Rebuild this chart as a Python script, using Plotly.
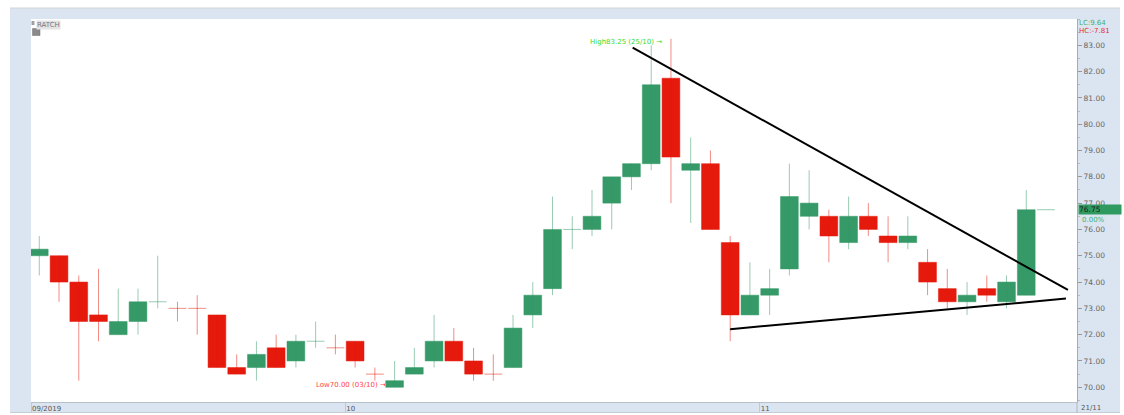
import plotly.graph_objects as go

# ---------------- data ----------------
symbol = "RATCH"
dates = [
    "2019-09-09", "2019-09-10", "2019-09-11", "2019-09-12", "2019-09-13", "2019-09-16",
    "2019-09-17", "2019-09-18", "2019-09-19", "2019-09-20", "2019-09-23", "2019-09-24",
    "2019-09-25", "2019-09-26", "2019-09-27", "2019-09-30",
    "2019-10-01", "2019-10-02", "2019-10-03", "2019-10-04", "2019-10-07", "2019-10-08",
    "2019-10-09", "2019-10-10", "2019-10-11", "2019-10-15", "2019-10-16", "2019-10-17",
    "2019-10-18", "2019-10-21", "2019-10-22", "2019-10-24", "2019-10-25", "2019-10-28",
    "2019-10-29", "2019-10-30", "2019-10-31",
    "2019-11-01", "2019-11-04", "2019-11-05", "2019-11-06", "2019-11-07", "2019-11-08",
    "2019-11-11", "2019-11-12", "2019-11-13", "2019-11-14", "2019-11-15", "2019-11-18",
    "2019-11-19", "2019-11-20", "2019-11-21",
]
opens = [75.0, 75.0, 74.0, 72.75, 72.0, 72.5, 73.25, 73.0, 73.0, 72.75, 70.75, 70.75,
         71.5, 71.0, 71.75, 71.5,
         71.75, 70.5, 70.0, 70.5, 71.0, 71.75, 71.0, 70.5, 70.75, 72.75, 73.75, 76.0,
         76.0, 77.0, 78.0, 78.5, 81.75, 78.25, 78.5, 75.5, 72.75,
         73.5, 74.5, 76.5, 76.5, 75.5, 76.5, 75.75, 75.5, 74.75, 73.75, 73.25, 73.75,
         73.25, 73.5, 76.75]
highs = [75.75, 75.0, 74.25, 74.5, 73.75, 73.75, 75.0, 73.25, 73.5, 72.75, 71.25, 71.75,
         72.0, 72.0, 72.5, 72.0,
         71.75, 70.75, 71.0, 71.5, 72.75, 72.25, 71.5, 71.25, 72.75, 74.0, 77.25, 76.5,
         77.5, 78.0, 78.5, 83.0, 83.25, 79.5, 79.0, 75.75, 74.75,
         74.5, 78.5, 78.25, 76.75, 77.25, 77.0, 76.5, 76.5, 75.25, 74.5, 74.0, 74.25,
         74.25, 77.5, 76.75]
lows = [74.25, 73.25, 70.25, 71.75, 72.0, 72.0, 73.0, 72.5, 72.0, 70.75, 70.5, 70.25,
        70.75, 70.75, 71.5, 71.25,
        70.75, 70.25, 70.0, 70.5, 70.75, 71.0, 70.25, 70.25, 70.75, 72.25, 73.5, 75.25,
        75.75, 76.0, 77.5, 78.25, 77.0, 76.25, 76.0, 71.75, 72.75,
        72.75, 74.25, 76.0, 74.75, 75.25, 75.75, 74.75, 75.25, 73.5, 73.0, 72.75, 73.25,
        73.0, 73.5, 76.75]
closes = [75.25, 74.0, 72.5, 72.5, 72.5, 73.25, 73.25, 73.0, 73.0, 70.75, 70.5, 71.25,
          70.75, 71.75, 71.75, 71.5,
          71.0, 70.5, 70.25, 70.75, 71.75, 71.0, 70.5, 70.5, 72.25, 73.5, 76.0, 76.0,
          76.5, 78.0, 78.5, 81.5, 78.75, 78.5, 76.0, 72.75, 73.5,
          73.75, 77.25, 77.0, 75.75, 76.5, 76.0, 75.5, 75.75, 74.0, 73.25, 73.5, 73.5,
          74.0, 76.75, 76.75]

# hand-drawn trend lines (x = bar index, y = price)
upper_trend_x = [30.06, 52.11]
upper_trend_y = [82.91, 73.70]
lower_trend_x = [35.0, 52.01]
lower_trend_y = [72.21, 73.37]

# ---------------- styling ----------------
GREEN = "#359A68"
RED = "#E61A0C"
GREEN_W = "rgba(53,154,104,0.5)"
RED_W = "rgba(230,26,12,0.5)"
FRAME = "#DBE5F1"
FONT = "DejaVu Sans"
W, H = 1124, 415
BODY_W = 0.9

n = len(dates)
xs = list(range(n))

# direction: dojis take the direction vs previous close, else keep previous direction
direction = []
for i in range(n):
    if closes[i] > opens[i]:
        d = 1
    elif closes[i] < opens[i]:
        d = -1
    elif i > 0 and closes[i] > closes[i - 1]:
        d = 1
    elif i > 0 and closes[i] < closes[i - 1]:
        d = -1
    else:
        d = direction[-1] if direction else 1
    direction.append(d)

fig = go.Figure()
for sign, fill, line in [(1, GREEN, GREEN_W), (-1, RED, RED_W)]:
    idx = [i for i in range(n) if direction[i] == sign]
    # wicks
    wx, wy = [], []
    for i in idx:
        if highs[i] > lows[i]:
            wx += [xs[i], xs[i], None]
            wy += [lows[i], highs[i], None]
    fig.add_trace(go.Scatter(x=wx, y=wy, mode="lines", line=dict(color=line, width=1),
                             hoverinfo="skip", showlegend=False))
    # flat (doji) bars
    dx, dy = [], []
    for i in idx:
        if opens[i] == closes[i]:
            dx += [xs[i] - BODY_W / 2, xs[i] + BODY_W / 2, None]
            dy += [opens[i], opens[i], None]
    fig.add_trace(go.Scatter(x=dx, y=dy, mode="lines", line=dict(color=line, width=1),
                             hoverinfo="skip", showlegend=False))
    # bodies
    bidx = [i for i in idx if opens[i] != closes[i]]
    fig.add_trace(go.Bar(
        x=[xs[i] for i in bidx],
        base=[min(opens[i], closes[i]) for i in bidx],
        y=[abs(closes[i] - opens[i]) for i in bidx],
        width=BODY_W, marker=dict(color=fill, line=dict(color=line, width=1)),
        text=[dates[i] for i in bidx], textposition="none",
        hovertemplate="%{text}<extra></extra>", showlegend=False,
    ))

for tx, ty in [(upper_trend_x, upper_trend_y), (lower_trend_x, lower_trend_y)]:
    fig.add_trace(go.Scatter(x=tx, y=ty, mode="lines", line=dict(color="#000000", width=2),
                             showlegend=False, hoverinfo="skip"))

# month boundaries
month_ticks = []
month_labels = []
for i in range(1, n):
    if dates[i][5:7] != dates[i - 1][5:7]:
        month_ticks.append(i - 0.5)
        month_labels.append(dates[i][5:7])

x_lo, x_hi = -0.42, 52.57
y_lo, y_hi = 69.44, 84.0

# plot area pixels: x 31..1077, y 19..402 ; margins are zero, domains place the plot
PX0, PX1, PY0, PY1 = 31, 1077, 19, 402

def px(xp):
    return xp / W

def py(yp):
    return (H - yp) / H

annotations = []
small = dict(family=FONT, size=7, color="#555555")
last = dates[-1]
annotations.append(dict(x=px(PX1), y=py(407.5), xref="paper", yref="paper", xanchor="left",
                        yanchor="middle", text=f"{last[8:10]}/{last[5:7]}",
                        showarrow=False, font=small, xshift=2))

# high / low markers
hi_i = max(range(n), key=lambda i: highs[i])
lo_i = min(range(n), key=lambda i: lows[i])
def dm(d):
    return f"{d[8:10]}/{d[5:7]}"
annotations.append(dict(x=xs[hi_i], y=highs[hi_i], xref="x", yref="y", xanchor="right",
                        yanchor="middle", text=f"High{highs[hi_i]:.2f} ({dm(dates[hi_i])}) →",
                        showarrow=False, borderpad=0, xshift=-8, yshift=-3,
                        font=dict(family=FONT, size=7, color="#33DD33")))
annotations.append(dict(x=xs[lo_i], y=lows[lo_i], xref="x", yref="y", xanchor="right",
                        yanchor="middle", text=f"Low{lows[lo_i]:.2f} ({dm(dates[lo_i])}) →",
                        showarrow=False, borderpad=0, xshift=-8, yshift=2,
                        font=dict(family=FONT, size=7, color="#FF4444")))

# right panel info
last_c = closes[-1]
lc = (last_c - lows[lo_i]) / lows[lo_i] * 100
hc = (last_c - highs[hi_i]) / highs[hi_i] * 100
chg = (closes[-1] - closes[-2]) / closes[-2] * 100
annotations.append(dict(x=px(PX1), y=py(23), xref="paper", yref="paper", xanchor="left",
                        yanchor="middle", text=f"LC:{lc:.2f}", showarrow=False, xshift=0,
                        font=dict(family=FONT, size=7, color="#3FAF6F")))
annotations.append(dict(x=px(PX1), y=py(31), xref="paper", yref="paper", xanchor="left",
                        yanchor="middle", text=f"HC:{hc:.2f}", showarrow=False, xshift=0,
                        font=dict(family=FONT, size=7, color="#E53030")))
annotations.append(dict(x=px(PX1), y=last_c, xref="paper", yref="y", xanchor="left",
                        yanchor="middle", text=f"{last_c:.2f}", showarrow=False, xshift=1,
                        bgcolor="#2F9A60", width=42, height=9, align="left", borderpad=0,
                        font=dict(family=FONT, size=7.5, color="#1A1A1A")))
annotations.append(dict(x=px(PX1), y=last_c, xref="paper", yref="y", xanchor="left",
                        yanchor="middle", text=f"{chg:.2f}%", showarrow=False, xshift=3,
                        yshift=-10, font=dict(family=FONT, size=7, color="#3FAF6F")))
# symbol label
annotations.append(dict(x=px(36), y=py(19.5), xref="paper", yref="paper", xanchor="left",
                        yanchor="top", text=symbol, showarrow=False, borderpad=0,
                        bgcolor="#E4E4E4", font=dict(family=FONT, size=7, color="#777777")))

shapes = [
    # white outer margins
    dict(type="rect", xref="paper", yref="paper", x0=0, x1=1, y0=py(8), y1=1,
         fillcolor="white", line=dict(width=0), layer="below"),
    dict(type="rect", xref="paper", yref="paper", x0=0, x1=px(10), y0=0, y1=1,
         fillcolor="white", line=dict(width=0), layer="below"),
    dict(type="rect", xref="paper", yref="paper", x0=px(1120), x1=1, y0=0, y1=1,
         fillcolor="white", line=dict(width=0), layer="below"),
    dict(type="rect", xref="paper", yref="paper", x0=0, x1=1, y0=0, y1=py(413),
         fillcolor="white", line=dict(width=0), layer="below"),
    dict(type="line", xref="paper", yref="paper", x0=px(10), x1=px(1120), y0=py(8), y1=py(8),
         line=dict(color="#D0D4D8", width=1)),
    dict(type="line", xref="paper", yref="paper", x0=px(10), x1=px(1120), y0=py(412.5), y1=py(412.5),
         line=dict(color="#C4CCD4", width=1)),
    dict(type="line", xref="paper", yref="paper", x0=px(PX1), x1=px(PX1), y0=py(PY1), y1=py(413),
         line=dict(color="#B0B8C0", width=1)),
    # symbol icons
    dict(type="rect", xref="paper", yref="paper", x0=px(31.5), x1=px(34.5), y0=py(25), y1=py(21),
         fillcolor="#A0A0A0", line=dict(width=0)),
    dict(type="rect", xref="paper", yref="paper", x0=px(32.5), x1=px(40), y0=py(35.5), y1=py(28.5),
         fillcolor="#8A8A8A", line=dict(color="#6E6E6E", width=0.5)),
]

x_tickvals = [x_lo] + month_ticks
x_ticktext = [f"{dates[0][5:7]}/{dates[0][:4]}"] + month_labels

fig.update_layout(
    width=W, height=H, autosize=False,
    margin=dict(l=0, r=0, t=0, b=0, pad=0),
    paper_bgcolor=FRAME, plot_bgcolor="white",
    barmode="overlay",
    font=dict(family=FONT, size=7.5, color="#666666"),
    xaxis=dict(domain=[px(PX0), px(PX1)], range=[x_lo, x_hi], showgrid=False, zeroline=False,
               tickvals=x_tickvals, ticktext=x_ticktext, ticks="outside", ticklen=10,
               tickcolor="#C0C8D0", ticklabelposition="outside right", ticklabelstandoff=0,
               tickfont=dict(family=FONT, size=7, color="#555555"),
               showline=True, linecolor="#B8C0C8", fixedrange=True),
    yaxis=dict(domain=[py(PY1), py(PY0)], range=[y_lo, y_hi], side="right", showgrid=False,
               zeroline=False, tickvals=list(range(70, 84)), tickformat=".2f",
               ticks="outside", ticklen=4, tickcolor="#999999",
               tickfont=dict(family=FONT, size=7.5, color="#666666"),
               showline=True, linecolor="#AAAAAA",
               minor=dict(ticks="outside", ticklen=2, dtick=0.5, tickcolor="#BBBBBB"),
               fixedrange=True),
    annotations=annotations,
    shapes=shapes,
    showlegend=False,
)

fig.write_html("out.html")
